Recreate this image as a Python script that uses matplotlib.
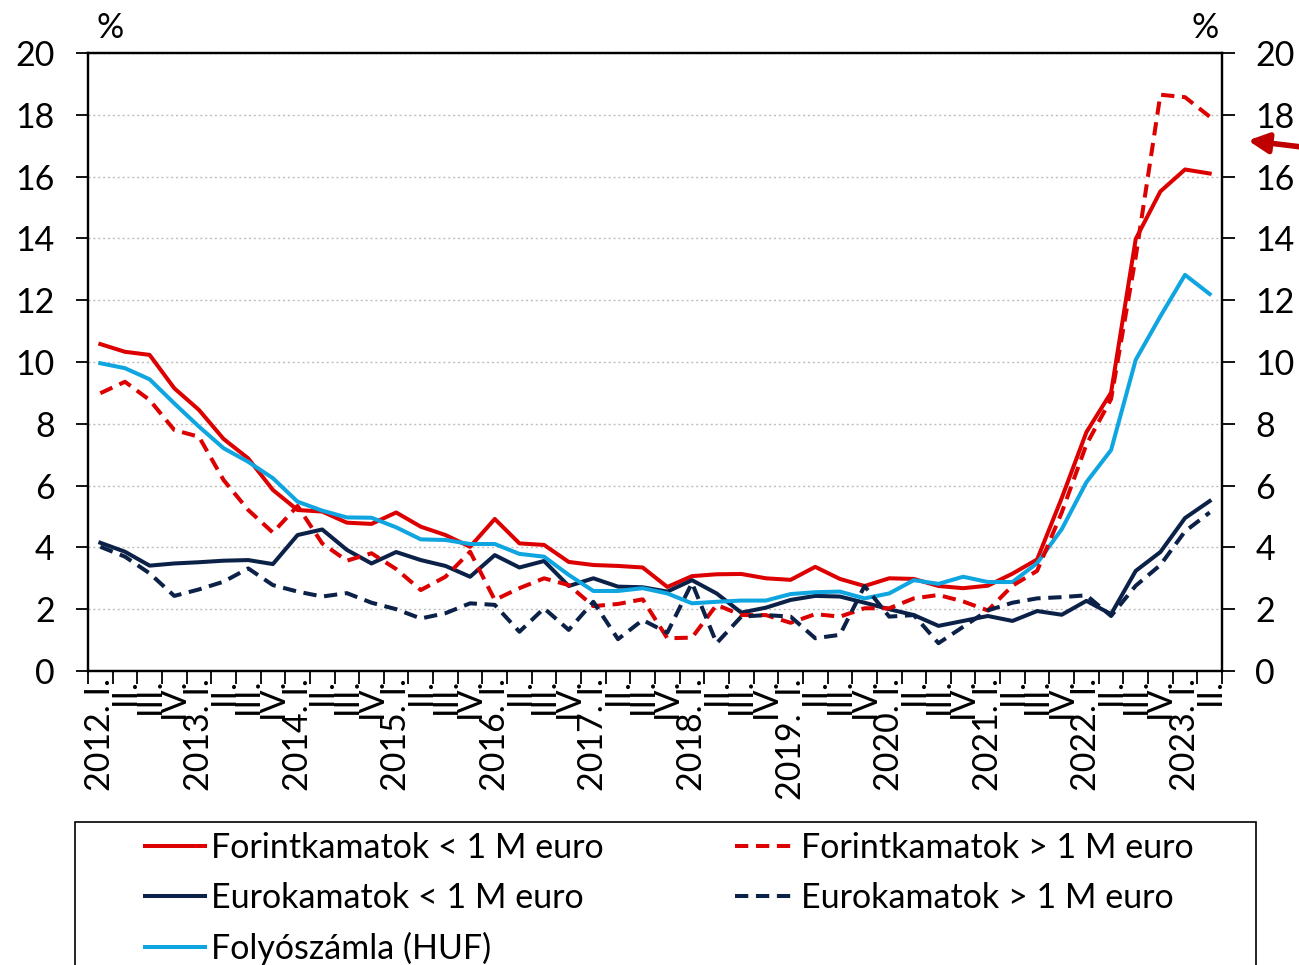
import numpy as np
import matplotlib
matplotlib.use("Agg")
from matplotlib import pyplot as plt
from matplotlib.patches import Rectangle

plt.rcParams['font.family'] = ['Lato', 'DejaVu Sans']

# quarterly labels, 2012 Q1 .. 2023 Q2
years = list(range(2012, 2024))
quarters = ["I.", "II.", "III.", "IV."]
labels = []
for y in years:
    for q in quarters:
        if y == 2023 and q in ("III.", "IV."):
            continue
        if q == "I.":
            labels.append(f"{y}.  I." if y == 2019 else f"{y}. I.")
        else:
            labels.append(q)

huf_small = [10.58, 10.33, 10.23, 9.15, 8.45, 7.51, 6.88, 5.86, 5.21, 5.16, 4.80, 4.76, 5.13,
             4.67, 4.40, 4.02, 4.92, 4.13, 4.08, 3.53, 3.43, 3.40, 3.35, 2.72,
             3.07, 3.13, 3.14, 3.00, 2.95, 3.37, 2.98, 2.75, 3.00, 2.98, 2.75, 2.68,
             2.76, 3.15, 3.61, 5.60, 7.73, 9.01, 13.98, 15.52, 16.23, 16.10]
huf_large = [8.99, 9.36, 8.77, 7.80, 7.58, 6.18, 5.21, 4.48, 5.34, 4.13, 3.57, 3.81, 3.30,
             2.62, 3.05, 3.86, 2.30, 2.68, 3.00, 2.78, 2.10, 2.17, 2.32, 1.06,
             1.08, 2.14, 1.81, 1.81, 1.56, 1.84, 1.76, 2.03, 2.03, 2.35, 2.46, 2.25,
             1.96, 2.76, 3.24, 5.13, 7.33, 8.80, 13.40, 18.65, 18.57, 17.94]
eur_small = [4.15, 3.86, 3.41, 3.48, 3.52, 3.57, 3.59, 3.46, 4.40, 4.58, 3.92, 3.48, 3.85,
             3.59, 3.40, 3.05, 3.75, 3.35, 3.56, 2.75, 3.00, 2.73, 2.71, 2.57,
             2.94, 2.51, 1.89, 2.05, 2.30, 2.43, 2.41, 2.21, 2.00, 1.81, 1.46, 1.62,
             1.78, 1.62, 1.94, 1.82, 2.27, 1.84, 3.24, 3.85, 4.95, 5.50]
eur_large = [4.02, 3.70, 3.16, 2.43, 2.64, 2.89, 3.32, 2.78, 2.57, 2.41, 2.52, 2.21, 2.00,
             1.70, 1.87, 2.19, 2.14, 1.27, 2.03, 1.33, 2.24, 1.03, 1.65, 1.24,
             2.85, 0.90, 1.76, 1.81, 1.76, 1.06, 1.17, 2.75, 1.76, 1.81, 0.90, 1.43,
             1.96, 2.21, 2.35, 2.39, 2.45, 1.78, 2.76, 3.43, 4.52, 5.13]
current_acc = [9.96, 9.80, 9.44, 8.66, 7.91, 7.21, 6.77, 6.24, 5.48, 5.19, 4.97, 4.96, 4.65,
               4.26, 4.24, 4.11, 4.11, 3.79, 3.70, 3.11, 2.59, 2.59, 2.68, 2.51,
               2.19, 2.24, 2.28, 2.28, 2.49, 2.55, 2.57, 2.35, 2.51, 2.94, 2.82, 3.05,
               2.88, 2.88, 3.49, 4.59, 6.11, 7.15, 10.07, 11.48, 12.82, 12.20]

RED = "#DD0000"
NAVY = "#0C2148"
BLUE = "#0EA5E0"
FS = 24.5
lw = 2.9
W, H = 1299, 965

x = np.arange(len(labels))

fig = plt.figure(figsize=(12.99, 9.65), dpi=100)
ax = fig.add_axes([88/W, 1-671/H, (1222-88)/W, (671-53)/H])

l1, = ax.plot(x, huf_small, color=RED, lw=lw, label="Forintkamatok < 1 M euro")
l2, = ax.plot(x, eur_small, color=NAVY, lw=lw, label="Eurokamatok < 1 M euro")
l3, = ax.plot(x, current_acc, color=BLUE, lw=lw, label="Folyószámla (HUF)")
l4, = ax.plot(x, huf_large, color=RED, lw=lw, dashes=(3.3, 1.9), label="Forintkamatok > 1 M euro")
l5, = ax.plot(x, eur_large, color=NAVY, lw=lw, dashes=(3.3, 1.9), label="Eurokamatok > 1 M euro")

ax.set_xlim(-0.5, len(labels)-0.5)
ax.set_ylim(0, 20)
ax.set_yticks(np.arange(0, 21, 2))
ax.yaxis.grid(True, linestyle=(0, (1.5, 2)), color="#BFBFBF", lw=1)
ax.set_axisbelow(True)

ax.set_xticks(x)
ax.set_xticklabels(labels, rotation=90, ha="center", va="top", fontsize=FS)
ax.set_xticks(np.arange(-0.5, len(labels)), minor=True)
ax.tick_params(axis="x", which="major", length=0, pad=5)
ax.tick_params(axis="x", which="minor", length=9, width=1.3, direction="out")
ax.tick_params(axis="y", labelsize=FS, length=9, width=1.3, direction="out", pad=15)

for s in ax.spines.values():
    s.set_linewidth(1.6)

ax2 = ax.twinx()
ax2.set_ylim(0, 20)
ax2.set_yticks(np.arange(0, 21, 2))
ax2.tick_params(axis="y", labelsize=FS, length=9, width=1.3, direction="out", pad=15)
for s in ax2.spines.values():
    s.set_linewidth(1.6)

fig.text(110/W, 1-28/H, "%", fontsize=FS, ha="center", va="center")
fig.text(1205/W, 1-28/H, "%", fontsize=FS, ha="center", va="center")

# red arrow on the right edge
ax.annotate("", xy=(1248, H-140.5), xytext=(1310, H-148), xycoords="figure pixels",
            textcoords="figure pixels", annotation_clip=False,
            arrowprops=dict(arrowstyle="-|>", color="#C00000", lw=4, mutation_scale=30,
                            shrinkA=0, shrinkB=0))

# legend: frame drawn separately, two columns placed by hand
fig.add_artist(Rectangle((75/W, -0.05), (1256-75)/W, 0.05+(1-822/H), transform=fig.transFigure,
                         fill=False, edgecolor="black", lw=1.2, clip_on=False))
opts = dict(loc="upper left", frameon=False, fontsize=FS, borderpad=0, borderaxespad=0,
            handlelength=1.75, handletextpad=0.2, labelspacing=0.52)
fig.legend(handles=[l1, l2, l3], bbox_to_anchor=(145/W, 1-832/H), **opts)
fig.legend(handles=[l4, l5], bbox_to_anchor=(735/W, 1-832/H), **opts)

fig.savefig("out.png", dpi=100)
